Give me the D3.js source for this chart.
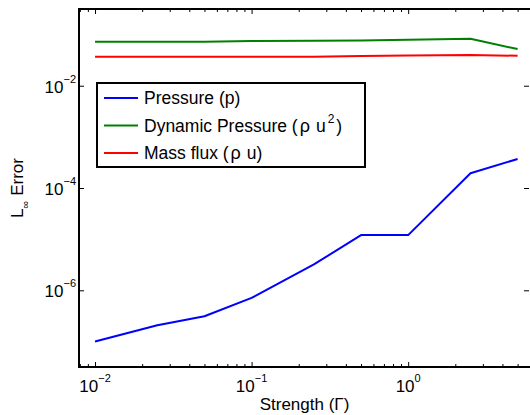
<!DOCTYPE html>
<html>
<head>
<meta charset="utf-8">
<script src="https://cdn.jsdelivr.net/npm/d3@7"></script>
<style>
  body { margin: 0; background: #fff; }
  svg { display: block; font-family: "Liberation Sans", Arial, sans-serif; }
</style>
</head>
<body>
<div id="chart"></div>
<script>
// data
const strength = [0.01, 0.025, 0.05, 0.1, 0.25, 0.5, 1, 2.5, 5];
const pressure = [1.0e-7, 2.07e-7, 3.1e-7, 7.1e-7, 3.2e-6, 1.2e-5, 1.2e-5, 1.94e-4, 3.7e-4];
const dynamicPressure = [0.072, 0.072, 0.072, 0.075, 0.076, 0.077, 0.079, 0.083, 0.052];
const massFlux = [0.037, 0.037, 0.037, 0.037, 0.037, 0.038, 0.039, 0.040, 0.0385];
const xTickExp = [-2, -1, 0];
const yTickExp = [-6, -4, -2];

// legend pieces: [text, kind]
const series = [
  { parts: [["Pressure (p)"]], color: "#0000ff", values: pressure },
  { parts: [["Dynamic Pressure ("], ["\u03c1", "rho"], ["u", "u"], ["2", "sup"], [")", "close"]], color: "#008000", values: dynamicPressure },
  { parts: [["Mass flux ("], ["\u03c1", "rho"], ["u", "u"], [")"]], color: "#ff0000", values: massFlux },
];

const W = 530, H = 415;
const margin = { top: 9, right: 0, bottom: 48, left: 79 };
const width = W - margin.left - margin.right;
const height = H - margin.top - margin.bottom;

const svg = d3.select("#chart").append("svg")
  .attr("width", W)
  .attr("height", H);

const g = svg.append("g")
  .attr("transform", `translate(${margin.left},${margin.top})`);

const x = d3.scaleLog().domain([0.0079, 6.0]).range([0, width]);
const y = d3.scaleLog().domain([Math.pow(10, -7.5), Math.pow(10, -0.5)]).range([height, 0]);

// minor x ticks (2..9 of each decade)
const minorX = [];
for (let e = -3; e <= 0; e++) {
  for (let m = 2; m <= 9; m++) {
    const v = m * Math.pow(10, e);
    if (v > x.domain()[0] && v < x.domain()[1]) minorX.push(v);
  }
}
const majorX = xTickExp.map((e) => Math.pow(10, e));
const majorY = yTickExp.map((e) => Math.pow(10, e));

function tickAxis(axis, transform) {
  const a = g.append("g").attr("transform", transform).call(axis);
  a.select(".domain").remove();
  a.selectAll("text").remove();
  a.selectAll("line").attr("stroke", "#000").attr("stroke-width", 1);
}

// ticks point inward, mirrored on top and right
tickAxis(d3.axisBottom(x).tickValues(minorX).tickSize(-3), `translate(0,${height})`);
tickAxis(d3.axisTop(x).tickValues(minorX).tickSize(-3), "translate(0,0)");
tickAxis(d3.axisBottom(x).tickValues(majorX).tickSize(-5), `translate(0,${height})`);
tickAxis(d3.axisTop(x).tickValues(majorX).tickSize(-5), "translate(0,0)");
tickAxis(d3.axisLeft(y).tickValues(majorY).tickSize(-5), "translate(0,0)");
tickAxis(d3.axisRight(y).tickValues(majorY).tickSize(-5), `translate(${width - 1},0)`);

// x tick labels 10^n
xTickExp.forEach((e) => {
  const t = g.append("text")
    .attr("x", x(Math.pow(10, e)))
    .attr("y", height + 25)
    .attr("text-anchor", "middle")
    .attr("font-size", 17);
  t.append("tspan").text("10");
  t.append("tspan").attr("font-size", 11).attr("dy", -10).text(e < 0 ? "\u2212" + (-e) : String(e));
});

// y tick labels 10^n
yTickExp.forEach((e) => {
  const t = g.append("text")
    .attr("x", -3)
    .attr("y", y(Math.pow(10, e)) + 7)
    .attr("text-anchor", "end")
    .attr("font-size", 17);
  t.append("tspan").text("10");
  t.append("tspan").attr("font-size", 11).attr("dy", -10).text("\u2212" + (-e));
});

// lines
const line = d3.line()
  .x((d) => x(d[0]))
  .y((d) => y(d[1]));

series.forEach((s) => {
  g.append("path")
    .datum(strength.map((v, i) => [v, s.values[i]]))
    .attr("fill", "none")
    .attr("stroke", s.color)
    .attr("stroke-width", 2)
    .attr("stroke-linejoin", "round")
    .attr("d", line);
});

// axes box
g.append("path")
  .attr("d", `M${width},0H0V${height}H${width}`)
  .attr("fill", "none")
  .attr("stroke", "#000")
  .attr("stroke-width", 2);

// legend
const legend = g.append("g").attr("transform", `translate(${97 - margin.left},${83 - margin.top})`);
legend.append("rect")
  .attr("width", 268)
  .attr("height", 84)
  .attr("fill", "#fff")
  .attr("stroke", "#000")
  .attr("stroke-width", 2);
series.forEach((s, i) => {
  const ly = 15 + i * 27.5;
  legend.append("line")
    .attr("x1", 7).attr("x2", 41)
    .attr("y1", ly).attr("y2", ly)
    .attr("stroke", s.color)
    .attr("stroke-width", 2);
  const t = legend.append("text")
    .attr("x", 47)
    .attr("y", ly + 6)
    .attr("font-size", 17.5);
  s.parts.forEach(([txt, kind]) => {
    const ts = t.append("tspan").text(txt);
    if (kind === "rho") ts.attr("dx", 2).attr("font-size", 18);
    if (kind === "u") ts.attr("dx", 6);
    if (kind === "sup") ts.attr("font-size", 12).attr("dy", -9).attr("dx", 2);
    if (kind === "close") ts.attr("dy", 9).attr("dx", 2);
  });
});

// axis titles
svg.append("text")
  .attr("x", margin.left + width / 2)
  .attr("y", 410)
  .attr("text-anchor", "middle")
  .attr("font-size", 17)
  .text("Strength (\u0393)");

const yl = svg.append("text")
  .attr("transform", `translate(23,${margin.top + height / 2}) rotate(-90)`)
  .attr("text-anchor", "middle")
  .attr("font-size", 17);
yl.append("tspan").text("L");
yl.append("tspan").attr("font-size", 11).attr("dy", 6).text("\u221e");
yl.append("tspan").attr("dy", -6).text(" Error");
</script>
</body>
</html>
